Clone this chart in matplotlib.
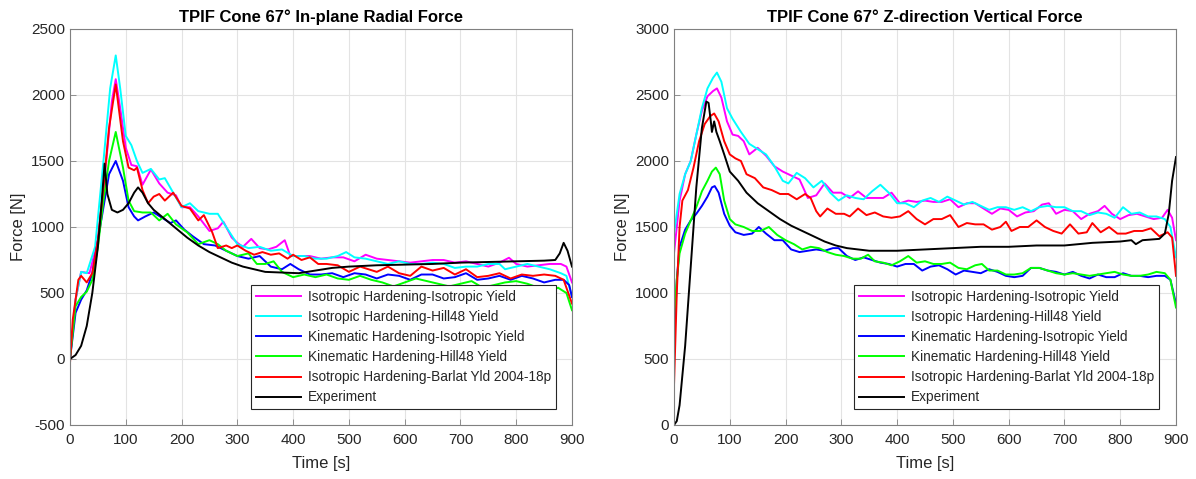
import matplotlib
matplotlib.use("Agg")
import matplotlib.pyplot as plt

plt.rcParams["font.family"] = ["Liberation Sans", "DejaVu Sans"]
plt.rcParams["axes.unicode_minus"] = False

LABELS = [
    "Isotropic Hardening-Isotropic Yield",
    "Isotropic Hardening-Hill48 Yield",
    "Kinematic Hardening-Isotropic Yield",
    "Kinematic Hardening-Hill48 Yield",
    "Isotropic Hardening-Barlat Yld 2004-18p",
    "Experiment",
]
COLORS = ["#ff00ff", "#00ffff", "#0000ff", "#00ff00", "#ff0000", "#000000"]

# ---- In-plane radial force (left) ----
r_iso_iso_t = [0, 10, 20, 35, 50, 65, 75, 82, 90, 100, 110, 120, 130, 145, 160, 175, 190, 200, 215, 230,
               250, 265, 275, 290, 300, 310, 325, 340, 355, 370, 385, 395, 410, 430, 450, 470, 490, 510,
               530, 550, 570, 590, 610, 630, 650, 670, 690, 710, 730, 750, 770, 787, 800, 820, 840, 860,
               880, 890, 900]
r_iso_iso = [0, 450, 660, 650, 900, 1500, 1950, 2120, 1900, 1600, 1470, 1460, 1320, 1435, 1330, 1260, 1240,
             1150, 1150, 1080, 970, 990, 1040, 920, 880, 850, 910, 840, 830, 850, 900, 780, 780, 780, 760,
             770, 770, 740, 790, 760, 750, 740, 730, 740, 750, 750, 730, 740, 720, 700, 730, 767, 720, 700,
             710, 720, 720, 700, 580]

r_iso_hill_t = [0, 10, 20, 30, 45, 60, 72, 82, 90, 100, 110, 120, 130, 145, 160, 170, 185, 200, 215, 230,
                250, 265, 280, 300, 320, 340, 360, 380, 400, 420, 440, 460, 480, 495, 510, 530, 550, 570,
                590, 610, 630, 650, 670, 690, 710, 730, 750, 770, 780, 800, 820, 840, 860, 880, 890, 900]
r_iso_hill = [0, 450, 660, 650, 850, 1500, 2050, 2300, 2050, 1690, 1620, 1500, 1410, 1440, 1360, 1370, 1260,
              1150, 1180, 1120, 1100, 1100, 1000, 870, 840, 850, 820, 830, 780, 780, 760, 760, 780, 810,
              770, 760, 740, 720, 740, 720, 720, 730, 720, 690, 700, 700, 720, 720, 680, 700, 720, 700, 680,
              650, 630, 470]

r_kin_iso_t = [0, 10, 20, 30, 40, 50, 60, 70, 82, 95, 105, 115, 122, 135, 150, 165, 180, 190, 205, 220,
               240, 260, 280, 300, 320, 340, 360, 380, 395, 410, 430, 450, 470, 490, 510, 530, 550, 570,
               590, 610, 630, 650, 670, 690, 710, 730, 750, 770, 790, 810, 830, 850, 870, 885, 895, 900]
r_kin_iso = [0, 350, 450, 520, 650, 900, 1150, 1400, 1500, 1350, 1150, 1080, 1050, 1080, 1110, 1070, 1030,
             1050, 980, 930, 870, 860, 820, 780, 760, 780, 700, 680, 720, 680, 640, 640, 650, 620, 650, 640,
             610, 640, 630, 600, 640, 640, 610, 620, 650, 600, 610, 630, 600, 630, 610, 580, 600, 600, 560,
             470]

r_kin_hill_t = [0, 10, 20, 30, 40, 50, 60, 70, 82, 95, 105, 115, 130, 145, 160, 175, 190, 210, 230, 250,
                265, 280, 300, 320, 335, 350, 365, 380, 400, 420, 440, 460, 480, 500, 520, 540, 560, 580,
                600, 620, 640, 660, 680, 700, 720, 740, 760, 780, 800, 820, 840, 860, 875, 890, 900]
r_kin_hill = [0, 400, 470, 510, 600, 850, 1200, 1500, 1720, 1450, 1200, 1120, 1110, 1110, 1050, 1100, 1020,
              960, 870, 900, 870, 820, 780, 800, 720, 720, 740, 660, 620, 640, 620, 640, 610, 600, 630, 600,
              580, 550, 580, 610, 590, 570, 550, 570, 590, 540, 560, 580, 590, 570, 540, 510, 540, 500, 370]

r_barlat_t = [0, 5, 15, 20, 30, 40, 50, 60, 70, 82, 95, 105, 115, 120, 130, 140, 150, 160, 170, 185, 200,
              215, 230, 240, 255, 265, 280, 290, 300, 315, 330, 345, 360, 375, 390, 400, 415, 430, 445, 460,
              480, 500, 520, 535, 550, 570, 590, 610, 630, 650, 670, 690, 710, 730, 750, 770, 790, 810, 830,
              850, 870, 885, 900]
r_barlat = [-30, 300, 600, 630, 580, 650, 900, 1300, 1750, 2080, 1650, 1450, 1430, 1450, 1280, 1180, 1230,
            1250, 1200, 1260, 1160, 1140, 1050, 1090, 960, 840, 860, 840, 860, 820, 790, 810, 790, 800, 760,
            790, 750, 770, 720, 720, 710, 660, 700, 680, 660, 700, 650, 630, 700, 670, 690, 640, 680, 620,
            630, 650, 610, 640, 630, 640, 630, 600, 420]

r_exp_t = [0, 10, 20, 30, 40, 50, 57, 62, 67, 75, 85, 95, 105, 115, 122, 130, 140, 150, 170, 190, 210, 230,
           250, 270, 290, 310, 330, 350, 380, 410, 440, 470, 500, 550, 600, 650, 700, 750, 800, 850, 870,
           878, 885, 892, 900]
r_exp = [0, 30, 100, 250, 500, 850, 1200, 1480, 1250, 1130, 1110, 1130, 1180, 1260, 1300, 1260, 1180, 1130,
         1060, 990, 920, 860, 810, 770, 730, 700, 680, 660, 655, 650, 670, 690, 700, 710, 715, 720, 730, 735,
         740, 745, 750, 800, 880, 820, 700]

# ---- Z-direction vertical force (right) ----
z_iso_iso_t = [0, 10, 20, 30, 40, 50, 60, 70, 77, 85, 95, 105, 115, 125, 135, 150, 165, 180, 195, 210, 225,
               240, 255, 270, 285, 300, 315, 330, 345, 360, 375, 390, 405, 420, 435, 450, 465, 480, 495,
               510, 525, 540, 555, 570, 585, 600, 615, 630, 645, 660, 672, 685, 700, 715, 730, 745, 760,
               772, 785, 800, 815, 830, 845, 860, 875, 885, 893, 900]
z_iso_iso = [1300, 1700, 1900, 2000, 2200, 2380, 2490, 2530, 2550, 2480, 2300, 2200, 2190, 2150, 2050, 2100,
             2040, 1960, 1920, 1890, 1860, 1720, 1740, 1830, 1760, 1760, 1720, 1770, 1720, 1720, 1720, 1760,
             1680, 1700, 1690, 1700, 1690, 1690, 1710, 1650, 1680, 1680, 1640, 1600, 1640, 1630, 1580, 1610,
             1620, 1670, 1680, 1600, 1630, 1620, 1560, 1600, 1620, 1660, 1600, 1560, 1590, 1600, 1580, 1560,
             1570, 1630, 1570, 1400]

z_iso_hill_t = [0, 10, 20, 30, 40, 50, 60, 70, 77, 85, 95, 105, 120, 135, 150, 165, 180, 195, 205, 220, 235,
                250, 265, 280, 295, 310, 325, 340, 355, 370, 385, 400, 415, 430, 445, 460, 475, 490, 505,
                520, 535, 550, 565, 580, 595, 610, 625, 640, 655, 670, 685, 700, 715, 730, 745, 760, 775,
                790, 805, 820, 835, 850, 865, 880, 890, 900]
z_iso_hill = [1450, 1750, 1900, 2000, 2200, 2400, 2550, 2630, 2670, 2600, 2400, 2320, 2220, 2130, 2090, 2050,
              1960, 1850, 1830, 1910, 1870, 1800, 1850, 1760, 1700, 1740, 1720, 1710, 1770, 1820, 1760, 1680,
              1680, 1650, 1700, 1720, 1690, 1730, 1700, 1670, 1690, 1660, 1630, 1650, 1650, 1630, 1650, 1620,
              1650, 1660, 1650, 1650, 1620, 1620, 1590, 1610, 1600, 1570, 1650, 1600, 1610, 1580, 1580, 1560,
              1500, 1270]

z_kin_iso_t = [0, 5, 10, 20, 30, 40, 50, 60, 68, 73, 80, 90, 100, 110, 125, 140, 152, 165, 180, 195, 210,
               225, 240, 255, 270, 285, 295, 310, 325, 340, 355, 370, 385, 400, 415, 430, 445, 460, 475, 490,
               505, 520, 535, 550, 565, 580, 595, 610, 625, 640, 655, 670, 685, 700, 715, 730, 745, 760, 775,
               790, 805, 820, 835, 850, 865, 880, 890, 900]
z_kin_iso = [600, 1100, 1350, 1480, 1550, 1600, 1660, 1730, 1800, 1810, 1760, 1600, 1510, 1460, 1440, 1450,
             1500, 1450, 1400, 1400, 1330, 1310, 1320, 1330, 1320, 1340, 1340, 1280, 1250, 1270, 1250, 1230,
             1220, 1200, 1220, 1220, 1170, 1200, 1210, 1180, 1140, 1170, 1160, 1150, 1180, 1160, 1130, 1120,
             1130, 1190, 1190, 1170, 1160, 1140, 1160, 1130, 1110, 1140, 1120, 1120, 1150, 1130, 1130, 1120,
             1130, 1130, 1100, 920]

z_kin_hill_t = [0, 5, 10, 20, 30, 40, 50, 60, 68, 75, 82, 90, 100, 110, 125, 140, 155, 170, 185, 200, 215,
                230, 245, 260, 275, 290, 305, 320, 335, 348, 360, 375, 390, 405, 420, 435, 450, 465, 480, 495,
                510, 525, 540, 552, 565, 580, 595, 610, 625, 640, 655, 670, 685, 700, 715, 730, 745, 760, 775,
                790, 805, 820, 835, 850, 865, 880, 890, 900]
z_kin_hill = [800, 1100, 1300, 1450, 1550, 1650, 1770, 1850, 1920, 1950, 1900, 1700, 1560, 1520, 1500, 1470,
              1470, 1500, 1440, 1400, 1370, 1330, 1350, 1340, 1310, 1290, 1280, 1260, 1260, 1290, 1240, 1230,
              1210, 1240, 1280, 1230, 1240, 1220, 1220, 1230, 1190, 1180, 1210, 1220, 1170, 1170, 1140, 1140,
              1150, 1190, 1190, 1170, 1150, 1140, 1150, 1140, 1130, 1140, 1150, 1160, 1140, 1130, 1130, 1140,
              1160, 1150, 1100, 890]

z_barlat_t = [0, 5, 10, 15, 25, 35, 45, 55, 65, 72, 80, 90, 100, 110, 120, 130, 145, 160, 175, 190, 205,
              220, 235, 245, 255, 262, 275, 290, 305, 315, 330, 345, 360, 375, 390, 405, 420, 435, 450, 465,
              480, 495, 510, 525, 540, 555, 570, 585, 595, 605, 620, 635, 650, 665, 680, 695, 710, 725, 740,
              750, 765, 780, 795, 810, 825, 840, 855, 870, 885, 893, 900]
z_barlat = [300, 1000, 1500, 1700, 1780, 1950, 2150, 2280, 2340, 2360, 2300, 2150, 2050, 2020, 2000, 1900,
            1870, 1800, 1780, 1750, 1750, 1710, 1750, 1720, 1620, 1580, 1640, 1600, 1600, 1580, 1640, 1590,
            1610, 1580, 1570, 1580, 1620, 1560, 1520, 1560, 1560, 1590, 1500, 1530, 1520, 1520, 1480, 1500,
            1540, 1470, 1500, 1500, 1550, 1500, 1470, 1450, 1520, 1450, 1460, 1530, 1460, 1500, 1450, 1450,
            1470, 1470, 1490, 1430, 1460, 1420, 1130]

z_exp_t = [0, 5, 10, 20, 30, 40, 50, 58, 62, 66, 68, 72, 76, 82, 90, 100, 115, 130, 150, 170, 190, 210, 230,
           250, 270, 290, 310, 330, 350, 370, 400, 450, 500, 550, 600, 650, 700, 750, 800, 820, 828, 840,
           870, 880, 887, 893, 900]
z_exp = [0, 30, 150, 600, 1200, 1800, 2250, 2450, 2440, 2300, 2220, 2300, 2220, 2150, 2050, 1920, 1850, 1760,
         1680, 1620, 1560, 1510, 1470, 1430, 1390, 1360, 1340, 1330, 1320, 1320, 1320, 1330, 1340, 1350, 1350,
         1360, 1360, 1380, 1390, 1400, 1370, 1400, 1410, 1450, 1600, 1850, 2030]

LEFT = [(r_iso_iso_t, r_iso_iso), (r_iso_hill_t, r_iso_hill), (r_kin_iso_t, r_kin_iso),
        (r_kin_hill_t, r_kin_hill), (r_barlat_t, r_barlat), (r_exp_t, r_exp)]
RIGHT = [(z_iso_iso_t, z_iso_iso), (z_iso_hill_t, z_iso_hill), (z_kin_iso_t, z_kin_iso),
         (z_kin_hill_t, z_kin_hill), (z_barlat_t, z_barlat), (z_exp_t, z_exp)]

TXT = "#262626"

fig = plt.figure(figsize=(11.96, 4.79), dpi=100)
ax1 = fig.add_axes([70 / 1196, 54 / 479, 502 / 1196, 396 / 479])
ax2 = fig.add_axes([674 / 1196, 54 / 479, 502 / 1196, 396 / 479])


def style(ax, title, ylim, yticks, anchor):
    ax.set_xlim(0, 900)
    ax.set_ylim(*ylim)
    ax.set_xticks(range(0, 901, 100))
    ax.set_yticks(yticks)
    ax.grid(True, color="#e3e3e3", linewidth=0.8)
    ax.set_axisbelow(True)
    ax.tick_params(direction="in", length=4, width=0.6, colors="#808080", labelcolor=TXT,
                   labelsize=11, top=False, right=False)
    ax.tick_params(axis="x", pad=6)
    for s in ax.spines.values():
        s.set_color("#808080")
        s.set_linewidth(0.8)
    ax.set_title(title, fontsize=12, fontweight="bold", color="black", pad=5)
    ax.set_xlabel("Time [s]", fontsize=12, color=TXT, labelpad=6)
    ax.set_ylabel("Force [N]", fontsize=12, color=TXT, labelpad=4)
    leg = ax.legend(loc="lower right", bbox_to_anchor=anchor, fontsize=9.8, handlelength=3.3,
                    labelspacing=0.45, borderpad=0.35, handletextpad=0.5, fancybox=False,
                    framealpha=1, borderaxespad=0)
    leg.get_frame().set_edgecolor("#262626")
    leg.get_frame().set_linewidth(0.8)
    for t in leg.get_texts():
        t.set_color(TXT)


for (t, v), c, lab in zip(LEFT, COLORS, LABELS):
    ax1.plot(t, v, color=c, linewidth=1.4, label=lab)
for (t, v), c, lab in zip(RIGHT, COLORS, LABELS):
    ax2.plot(t, v, color=c, linewidth=1.4, label=lab)

style(ax1, "TPIF Cone 67° In-plane Radial Force", (-500, 2500), range(-500, 2501, 500), (0.968, 0.04))
style(ax2, "TPIF Cone 67° Z-direction Vertical Force", (0, 3000), range(0, 3001, 500), (0.966, 0.04))

fig.savefig("out.png", dpi=100)
